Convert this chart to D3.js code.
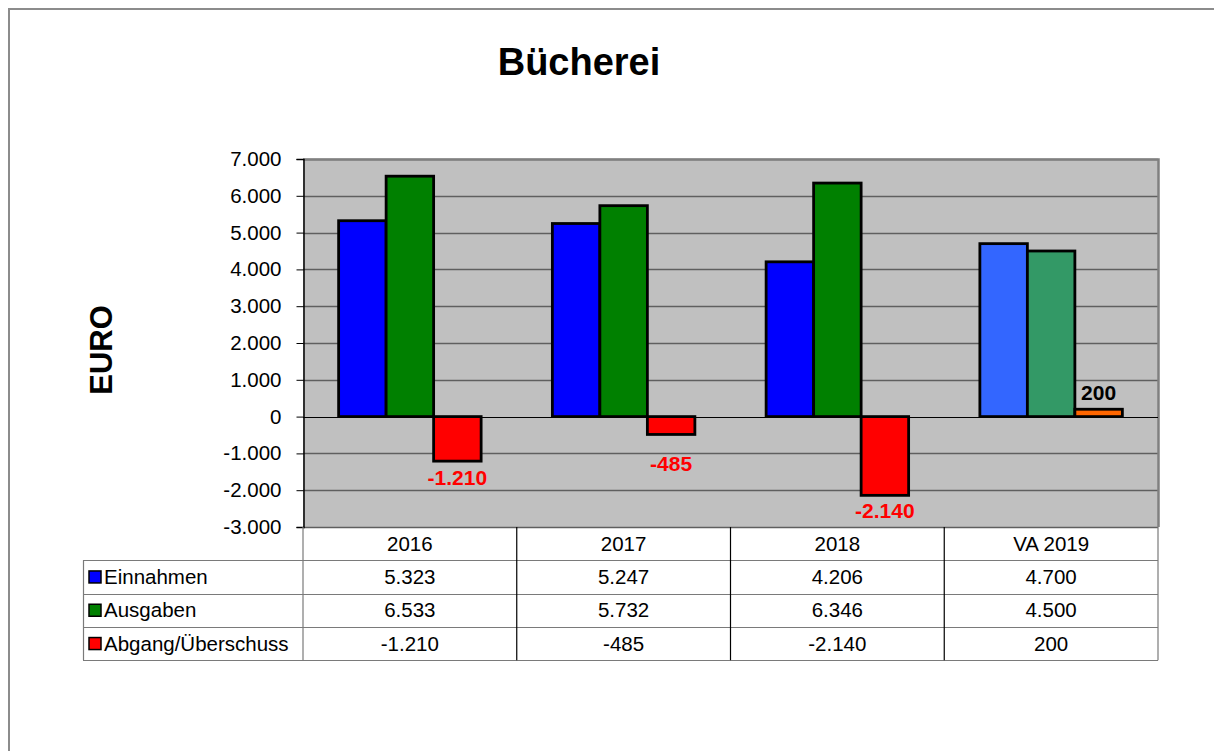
<!DOCTYPE html>
<html lang="de">
<head>
<meta charset="UTF-8">
<title>Bücherei</title>
<script src="https://cdn.jsdelivr.net/npm/d3@7"></script>
<style>
  body { margin: 0; background: #fff; }
  svg { display: block; font-family: "Liberation Sans", Arial, sans-serif; }
</style>
</head>
<body>
<div id="chart"></div>
<script>
// data
var categories = ["2016", "2017", "2018", "VA 2019"];
var seriesNames = ["Einnahmen", "Ausgaben", "Abgang/Überschuss"];
var einnahmen = [5323, 5247, 4206, 4700];
var ausgaben = [6533, 5732, 6346, 4500];
var saldo = [-1210, -485, -2140, 200];
var yTicks = [-3000, -2000, -1000, 0, 1000, 2000, 3000, 4000, 5000, 6000, 7000];
// label offsets from bar end (excel moved the -485 one down a bit)
var labelDy = [24, 37, 23, -9];

var colors = ["#0000FF", "#008000", "#FF0000"];
var forecastColors = ["#3366FF", "#339966", "#FF6600"];

var W = 1214, H = 751;
var plot = { left: 303, right: 1158, top: 159, bottom: 527 };
var rowH = 33.3;
var fs = 20.5;

var de = d3.formatLocale({ decimal: ",", thousands: ".", grouping: [3], currency: ["", " €"], minus: "-" });
var fmt = de.format(",");

var svg = d3.select("#chart").append("svg")
  .attr("width", W).attr("height", H);

// outer frame
svg.append("path")
  .attr("d", "M9," + H + "V9H" + W)
  .attr("fill", "none").attr("stroke", "#8c8c8c").attr("stroke-width", 2);

// title
svg.append("text")
  .attr("x", 579).attr("y", 75)
  .attr("text-anchor", "middle")
  .attr("font-size", 38).attr("font-weight", "bold")
  .text("Bücherei");

// y label
svg.append("text")
  .attr("transform", "translate(112,350) rotate(-90)")
  .attr("text-anchor", "middle")
  .attr("font-size", 31).attr("font-weight", "bold")
  .text("EURO");

var x0 = d3.scaleBand().domain(categories).range([plot.left, plot.right]);
var y = d3.scaleLinear().domain([-3000, 7000]).range([plot.bottom, plot.top]);

var groupW = x0.bandwidth() * 3 / 4.5;
var x1 = d3.scaleBand().domain([0, 1, 2]).range([0, groupW]);
var barX = function(cat, s) { return x0(cat) + (x0.bandwidth() - groupW) / 2 + x1(s); };

// plot background
svg.append("rect")
  .attr("x", plot.left).attr("y", plot.top)
  .attr("width", plot.right - plot.left).attr("height", plot.bottom - plot.top)
  .attr("fill", "#C0C0C0");

// gridlines
svg.append("g").selectAll("line")
  .data(yTicks.filter(function(d) { return d !== 0; }))
  .join("line")
  .attr("x1", plot.left).attr("x2", plot.right)
  .attr("y1", function(d) { return Math.round(y(d)) + 0.5; })
  .attr("y2", function(d) { return Math.round(y(d)) + 0.5; })
  .attr("stroke", "#5f5f5f").attr("stroke-width", 1.3);

// plot border top/right
svg.append("path")
  .attr("d", "M" + plot.left + "," + (plot.top + 0.5) + "H" + (plot.right + 0.5) + "V" + plot.bottom)
  .attr("fill", "none").attr("stroke", "#808080").attr("stroke-width", 2.5);

// y axis
var yAxis = d3.axisLeft(y).tickValues(yTicks).tickSize(7).tickPadding(15).tickFormat(fmt);
var gy = svg.append("g")
  .attr("transform", "translate(" + (plot.left + 0.5) + ",0)")
  .call(yAxis);
gy.select(".domain").attr("stroke", "#000").attr("stroke-width", 1.5);
gy.selectAll(".tick line").attr("stroke", "#000");
gy.selectAll(".tick text")
  .attr("font-size", fs).attr("fill", "#000")
  .attr("font-family", "Liberation Sans, Arial, sans-serif");

// bars
var barData = [];
categories.forEach(function(c, i) {
  [einnahmen[i], ausgaben[i], saldo[i]].forEach(function(v, s) {
    barData.push({ cat: c, i: i, s: s, v: v, forecast: i === 3 });
  });
});

svg.append("g").selectAll("rect")
  .data(barData)
  .join("rect")
  .attr("x", function(d) { return barX(d.cat, d.s); })
  .attr("width", x1.bandwidth())
  .attr("y", function(d) { return y(Math.max(0, d.v)); })
  .attr("height", function(d) { return Math.abs(y(d.v) - y(0)); })
  .attr("fill", function(d) { return d.forecast ? forecastColors[d.s] : colors[d.s]; })
  .attr("stroke", "#000").attr("stroke-width", 2.8);

// zero line
svg.append("line")
  .attr("x1", plot.left).attr("x2", plot.right)
  .attr("y1", Math.round(y(0)) + 0.5).attr("y2", Math.round(y(0)) + 0.5)
  .attr("stroke", "#000").attr("stroke-width", 1);

// saldo labels
svg.append("g").selectAll("text")
  .data(barData.filter(function(d) { return d.s === 2; }))
  .join("text")
  .attr("x", function(d) { return barX(d.cat, 2) + x1.bandwidth() / 2; })
  .attr("y", function(d) { return y(d.v) + labelDy[d.i]; })
  .attr("text-anchor", "middle")
  .attr("font-size", 21).attr("font-weight", "bold")
  .attr("fill", function(d) { return d.v < 0 ? "#FF0000" : "#000"; })
  .text(function(d) { return fmt(d.v); });

// data table
var table = svg.append("g");
var tableLeft = 83;
var rows = [einnahmen, ausgaben, saldo];

table.selectAll("text.hdr")
  .data(categories)
  .join("text")
  .attr("class", "hdr")
  .attr("x", function(d) { return x0(d) + x0.bandwidth() / 2; })
  .attr("y", plot.bottom + rowH / 2 + 7)
  .attr("text-anchor", "middle")
  .attr("font-size", fs)
  .text(function(d) { return d; });

rows.forEach(function(vals, r) {
  var ty = plot.bottom + rowH * (r + 1);
  table.append("rect")
    .attr("x", tableLeft + 6).attr("y", ty + rowH / 2 - 6)
    .attr("width", 12).attr("height", 12)
    .attr("fill", colors[r]).attr("stroke", "#000").attr("stroke-width", 1.5);
  table.append("text")
    .attr("x", tableLeft + 21).attr("y", ty + rowH / 2 + 7)
    .attr("font-size", fs)
    .text(seriesNames[r]);
  table.selectAll("text.v" + r)
    .data(vals)
    .join("text")
    .attr("x", function(d, i) { return x0(categories[i]) + x0.bandwidth() / 2; })
    .attr("y", ty + rowH / 2 + 7)
    .attr("text-anchor", "middle")
    .attr("font-size", fs)
    .text(function(d) { return fmt(d); });
});

// table grid
var tableBottom = plot.bottom + rowH * 4;
[1, 2, 3, 4].forEach(function(k) {
  var yy = Math.round(plot.bottom + rowH * k) + 0.5;
  table.append("line")
    .attr("x1", tableLeft).attr("x2", plot.right)
    .attr("y1", yy).attr("y2", yy)
    .attr("stroke", "#7a7a7a").attr("stroke-width", 1.2);
});
table.append("line")
  .attr("x1", tableLeft + 0.5).attr("x2", tableLeft + 0.5)
  .attr("y1", plot.bottom + rowH).attr("y2", tableBottom)
  .attr("stroke", "#7a7a7a").attr("stroke-width", 1.2);
table.selectAll("line.vcol")
  .data(categories.concat(["end"]))
  .join("line")
  .attr("class", "vcol")
  .attr("x1", function(d) { return d === "end" ? plot.right : x0(d); })
  .attr("x2", function(d) { return d === "end" ? plot.right : x0(d); })
  .attr("y1", plot.bottom).attr("y2", tableBottom)
  .attr("stroke", function(d) { return d === "end" || d === categories[0] ? "#7a7a7a" : "#000"; })
  .attr("stroke-width", 1.2);
</script>
</body>
</html>
